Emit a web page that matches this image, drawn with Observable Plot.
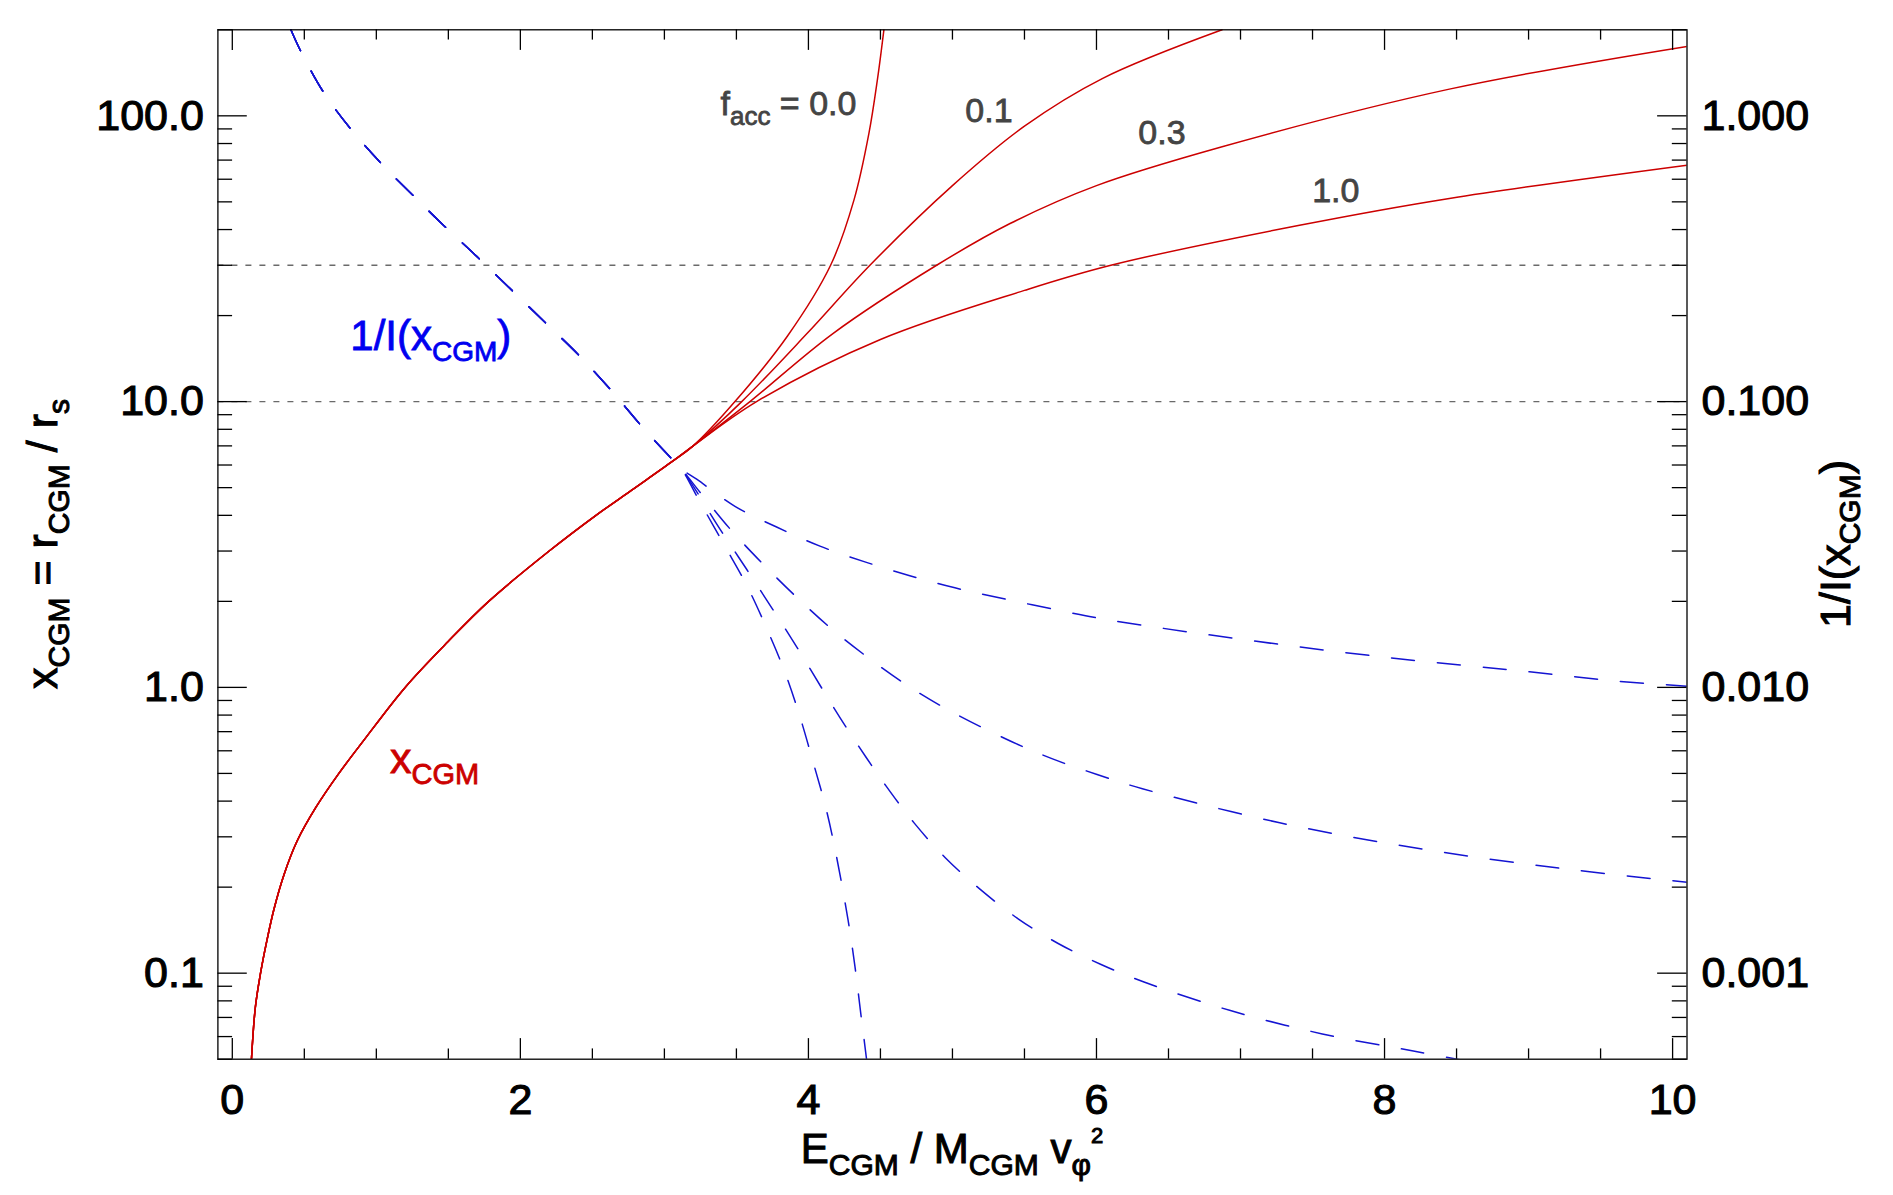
<!DOCTYPE html>
<html>
<head>
<meta charset="utf-8">
<script src="https://cdn.jsdelivr.net/npm/d3@7"></script>
<script src="https://cdn.jsdelivr.net/npm/@observablehq/plot@0.6"></script>
<style>
  html, body { margin: 0; padding: 0; background: #fff; }
  svg { display: block; }
  text { white-space: pre; }
</style>
</head>
<body>
<div id="chart"></div>
<script>
// ---------------- data ----------------
const faccValues = ["0.0", "0.1", "0.3", "1.0"];

// x_CGM = r_CGM / r_s : shared part (all f_acc) vs E_CGM / M_CGM v_phi^2
const redMainE = [0.133, 0.16, 0.196, 0.24, 0.29, 0.36, 0.45, 0.58, 0.74, 0.91, 1.2, 1.5, 1.78, 2.2, 2.525, 2.773, 3.06, 3.2];
const redMainX = [0.05, 0.076, 0.1, 0.13, 0.168, 0.222, 0.29, 0.38, 0.5, 0.65, 1.0, 1.45, 2.0, 3.0, 4.0, 4.9, 6.2, 7.0];
// branches
const red00E = [3.49, 3.856, 4.154, 4.316, 4.42, 4.48, 4.524];
const red00X = [10, 17, 30, 50.7, 86.8, 135, 200];
const red01E = [3.537, 3.99, 4.427, 5.0, 5.5, 6.04, 6.872];
const red01X = [10, 17.3, 30, 57, 92, 135, 200];
const red03E = [3.594, 4.17, 4.89, 5.4, 6.0, 6.866, 8.45, 10.1];
const red03X = [10, 17.3, 30, 42, 57, 77.8, 124, 175];
const red10E = [3.64, 4.5, 5.5, 6.1, 7.41, 8.45, 10.1];
const red10X = [10, 16.5, 24.5, 30, 41.4, 51.4, 67.2];

// 1/I(x_CGM) (right axis units): shared part
const blueMainE = [0.407, 0.471, 0.633, 0.825, 1.045, 1.276, 1.466, 1.709, 1.942, 2.183, 2.414, 2.634, 2.847, 3.062, 3.12];
const blueMainI = [2.00, 1.70, 1.21, 0.896, 0.672, 0.514, 0.414, 0.318, 0.245, 0.187, 0.144, 0.109, 0.0815, 0.0622, 0.058];
// branches
const blue00E = [3.242, 3.414, 3.571, 3.710, 3.837, 3.941, 4.033, 4.121, 4.191, 4.276, 4.323, 4.364, 4.404, 4.42];
const blue00I = [0.0450, 0.0316, 0.0228, 0.0161, 0.0113, 0.0079, 0.00547, 0.00379, 0.00262, 0.001526, 0.001057, 0.000719, 0.000498, 0.00042];
const blue01E = [3.386, 3.571, 3.751, 3.925, 4.098, 4.269, 4.536, 4.735, 4.952, 5.195, 5.456, 5.734, 6.028, 6.330, 6.930, 7.568, 8.209, 8.55];
const blue01I = [0.0358, 0.0259, 0.0188, 0.0137, 0.00984, 0.00716, 0.00454, 0.00335, 0.00253, 0.00196, 0.00155, 0.00127, 0.001075, 0.000931, 0.00074, 0.000613, 0.000533, 0.000495];
const blue03E = [3.25, 3.455, 3.682, 3.913, 4.156, 4.415, 4.681, 4.963, 5.394, 5.695, 6.004, 6.319, 7.272, 8.239, 9.215, 10.1];
const blue03I = [0.048, 0.0359, 0.0271, 0.0208, 0.0161, 0.0127, 0.0102, 0.00838, 0.00652, 0.00562, 0.00496, 0.00442, 0.00336, 0.00273, 0.00233, 0.00208];
const blue10E = [3.224, 3.49, 3.779, 4.08, 4.392, 4.704, 5.017, 5.341, 5.764, 6.092, 7.064, 8.035, 9.007, 9.632, 10.1];
const blue10I = [0.0535, 0.0430, 0.0364, 0.0312, 0.0275, 0.0246, 0.0223, 0.0205, 0.0185, 0.0172, 0.0146, 0.0127, 0.01134, 0.0105, 0.0101];

// reference (dotted) levels of x_CGM
const refLevels = [10, 30];

// ticks
const xMajor = [0, 2, 4, 6, 8, 10];
const xMinor = [0.5, 1, 1.5, 2.5, 3, 3.5, 4.5, 5, 5.5, 6.5, 7, 7.5, 8.5, 9, 9.5];
const yMajor = [0.1, 1, 10, 100];
const yMinor = [0.05, 0.06, 0.07, 0.08, 0.09, 0.2, 0.3, 0.4, 0.5, 0.6, 0.7, 0.8, 0.9,
                2, 3, 4, 5, 6, 7, 8, 9, 20, 30, 40, 50, 60, 70, 80, 90, 200];

// annotation anchors (data coordinates: E, left-axis value at baseline)
const curveLabelText = ["0.1", "0.3", "1.0"];
const curveLabelE = [5.093, 6.294, 7.501];
const curveLabelY = [95, 79.6, 49.9];
const faccLabelE = 3.393, faccLabelY = 100;
const blueLabelE = 0.823, blueLabelY = 15.1;
const redLabelE = 1.098, redLabelY = 0.50;

// right axis (1/I) value × AXIS_RATIO = left axis value
const AXIS_RATIO = 100;

// ---------------- build tables ----------------
function buildRows(f, mainE, mainV, brE, brV, key) {
  return mainE.map((E, i) => ({f, E, [key]: mainV[i]}))
    .concat(brE.map((E, i) => ({f, E, [key]: brV[i]})));
}
const redRows = [].concat(
  buildRows("0.0", redMainE, redMainX, red00E, red00X, "x"),
  buildRows("0.1", redMainE, redMainX, red01E, red01X, "x"),
  buildRows("0.3", redMainE, redMainX, red03E, red03X, "x"),
  buildRows("1.0", redMainE, redMainX, red10E, red10X, "x")
);
const blueRows = [].concat(
  buildRows("0.0", blueMainE, blueMainI, blue00E, blue00I, "inv"),
  buildRows("0.1", blueMainE, blueMainI, blue01E, blue01I, "inv"),
  buildRows("0.3", blueMainE, blueMainI, blue03E, blue03I, "inv"),
  buildRows("1.0", blueMainE, blueMainI, blue10E, blue10I, "inv")
);

// ---------------- layout ----------------
const FONT = "'Liberation Sans', Arial, Helvetica, sans-serif";
const W = 1893, H = 1195;
const M = {left: 217.4, right: 206.5, top: 29.3, bottom: 136.3};
const plotW = W - M.left - M.right;
const plotH = H - M.top - M.bottom;
const xTickMaj = 0.02 * plotH, xTickMin = 0.01 * plotH;
const yTickMaj = 0.02 * plotW, yTickMin = 0.01 * plotW;
const RED = "#cc0000", BLUE_LINE = "#1414d2", BLUE_TEXT = "#0000f0", GRAY_TEXT = "#444444";
const TICK = {stroke: "black", strokeWidth: 1.3};

const plot = Plot.plot({
  width: W, height: H,
  marginLeft: M.left, marginRight: M.right, marginTop: M.top, marginBottom: M.bottom,
  x: {domain: [-0.1, 10.1]},
  y: {type: "log", domain: [0.05, 200]},
  style: {fontFamily: FONT, color: "black", background: "white", overflow: "visible"},
  marks: [
    Plot.ruleY(refLevels, {y: d => d, stroke: "#6a6a6a", strokeWidth: 1.4, strokeDasharray: "6,8"}),
    Plot.line(redRows, {x: "E", y: "x", z: "f", stroke: RED, strokeWidth: 1.5, curve: "catmull-rom", clip: true}),
    Plot.line(blueRows, {x: "E", y: d => d.inv * AXIS_RATIO, z: "f", stroke: BLUE_LINE, strokeWidth: 1.5,
                         strokeDasharray: "23,23", curve: "catmull-rom", clip: true}),
    // inward ticks: bottom / top
    Plot.tickX(xMajor, {x: d => d, insetTop: plotH - xTickMaj, ...TICK}),
    Plot.tickX(xMajor, {x: d => d, insetBottom: plotH - xTickMaj, ...TICK}),
    Plot.tickX(xMinor, {x: d => d, insetTop: plotH - xTickMin, ...TICK}),
    Plot.tickX(xMinor, {x: d => d, insetBottom: plotH - xTickMin, ...TICK}),
    // inward ticks: left / right
    Plot.tickY(yMajor, {y: d => d, insetRight: plotW - yTickMaj, ...TICK}),
    Plot.tickY(yMajor, {y: d => d, insetLeft: plotW - yTickMaj, ...TICK}),
    Plot.tickY(yMinor, {y: d => d, insetRight: plotW - yTickMin, ...TICK}),
    Plot.tickY(yMinor, {y: d => d, insetLeft: plotW - yTickMin, ...TICK}),
    Plot.frame({stroke: "black", strokeWidth: 1.3}),
    Plot.axisX({anchor: "bottom", ticks: xMajor, tickSize: 0, tickPadding: 24, fontSize: 43,
                tickFormat: d => String(d), label: null}),
    Plot.axisY({anchor: "left", ticks: yMajor, tickSize: 0, tickPadding: 14, fontSize: 43,
                tickFormat: d => d.toFixed(1), label: null}),
    Plot.axisY({anchor: "right", ticks: yMajor, tickSize: 0, tickPadding: 14.5, fontSize: 43,
                tickFormat: d => (d / AXIS_RATIO).toFixed(3), label: null})
  ]
});
document.getElementById("chart").appendChild(plot);

// heavier tick labels (the reference uses a thick character weight)
const svg = d3.select(plot);
svg.selectAll('g[aria-label$="tick label"]')
  .attr("stroke", "currentColor").attr("stroke-width", 1.1).attr("paint-order", "stroke");

// ---------------- rich text (sub/superscripts) ----------------
const xs = plot.scale("x"), ys = plot.scale("y");
const g = svg.append("g").attr("class", "annotations");

function rich(parts, o) {
  const t = g.append("text")
    .attr("font-family", FONT)
    .attr("fill", o.fill)
    .attr("stroke", o.fill)
    .attr("stroke-width", o.weight == null ? 0.8 : o.weight)
    .attr("paint-order", "stroke")
    .attr("text-anchor", o.anchor || "start")
    .attr("transform", `translate(${o.x},${o.y})` + (o.rotate ? " rotate(-90)" : ""));
  let cur = 0;
  for (const p of parts) {
    const target = p.sub ? o.subShift : p.sup ? o.supShift : 0;
    const ts = t.append("tspan")
      .attr("font-size", p.sub ? o.subSize : p.sup ? o.supSize : o.size)
      .text(p.t);
    if (target !== cur) { ts.attr("dy", target - cur); cur = target; }
  }
  return t;
}

// axis titles
rich([{t: "E"}, {t: "CGM", sub: true}, {t: " / M"}, {t: "CGM", sub: true}, {t: " v"}, {t: "φ", sub: true}, {t: "2", sup: true}],
  {x: M.left + plotW / 2, y: 1163, size: 42, subSize: 30, subShift: 12, supSize: 22, supShift: -20, fill: "black", anchor: "middle", weight: 1});
rich([{t: "x"}, {t: "CGM", sub: true}, {t: " = r"}, {t: "CGM", sub: true}, {t: " / r"}, {t: "s", sub: true}],
  {x: 57, y: M.top + plotH / 2, size: 43, subSize: 30, subShift: 12, fill: "black", anchor: "middle", rotate: true, weight: 1});
rich([{t: "1/I(x"}, {t: "CGM", sub: true}, {t: ")"}],
  {x: 1850, y: M.top + plotH / 2, size: 43, subSize: 30, subShift: 10, fill: "black", anchor: "middle", rotate: true, weight: 1});

// curve labels
rich([{t: "f"}, {t: "acc", sub: true}, {t: " = 0.0"}],
  {x: xs.apply(faccLabelE), y: ys.apply(faccLabelY), size: 34, subSize: 26, subShift: 10, fill: GRAY_TEXT});
curveLabelText.forEach((s, i) => {
  rich([{t: s}], {x: xs.apply(curveLabelE[i]), y: ys.apply(curveLabelY[i]), size: 34, fill: GRAY_TEXT});
});
rich([{t: "1/I(x"}, {t: "CGM", sub: true}, {t: ")"}],
  {x: xs.apply(blueLabelE), y: ys.apply(blueLabelY), size: 42, subSize: 28, subShift: 11.5, fill: BLUE_TEXT});
rich([{t: "x"}, {t: "CGM", sub: true}],
  {x: xs.apply(redLabelE), y: ys.apply(redLabelY), size: 43, subSize: 29, subShift: 11.3, fill: RED});
</script>
</body>
</html>
